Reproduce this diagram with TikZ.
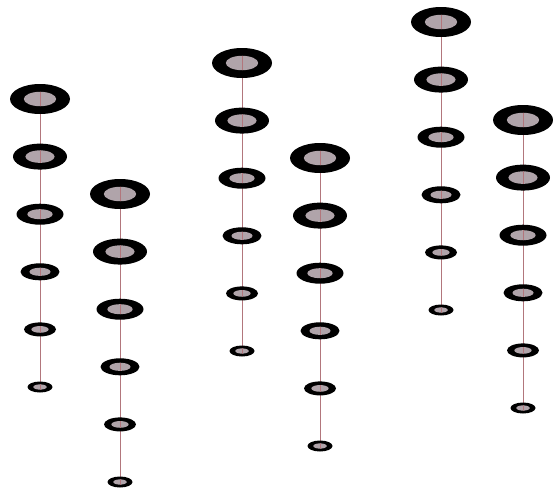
\documentclass[tikz,border=0pt]{standalone}
\usepackage{tikz}
\usetikzlibrary{shapes.geometric,backgrounds}
\definecolor{ringgrey}{RGB}{176,164,170}
\definecolor{stemred}{RGB}{178,118,124}

\begin{document}
\begin{tikzpicture}[x=1pt,y=-1pt,
    stem/.style={stemred,line width=1pt},
    ring/.style 2 args={ellipse,fill=black,draw=none,inner sep=0pt,
        minimum width=#1,minimum height=#2,
        path picture={
            \fill[ringgrey] (path picture bounding box.center)
                ellipse [x radius=0.27*#1, y radius=0.24*#2];
            \clip (path picture bounding box.center)
                ellipse [x radius=0.27*#1, y radius=0.24*#2];
            \draw[stem] (path picture bounding box.north)
                -- (path picture bounding box.south);}}
]
\useasboundingbox (0,0) rectangle (553,490);

% the six chains of rings
\foreach \col/\x/\y in {1/40/99, 2/120/194, 3/242/63, 4/320/158, 5/441/22, 6/523/120}{
    \foreach \i/\w/\h in {1/60/30, 2/54/26, 3/47/21, 4/39/17, 5/32/14, 6/25/11}
        \node[ring={\w pt}{\h pt}] (c\col-\i) at (\x,{\y+(\i-1)*57.6}) {};
    \begin{pgfonlayer}{background}
    \foreach \i [count=\j from 2] in {1,...,5}
        \draw[stem] (c\col-\i.center) -- (c\col-\j.center);
    \end{pgfonlayer}
}
\end{tikzpicture}
\end{document}
